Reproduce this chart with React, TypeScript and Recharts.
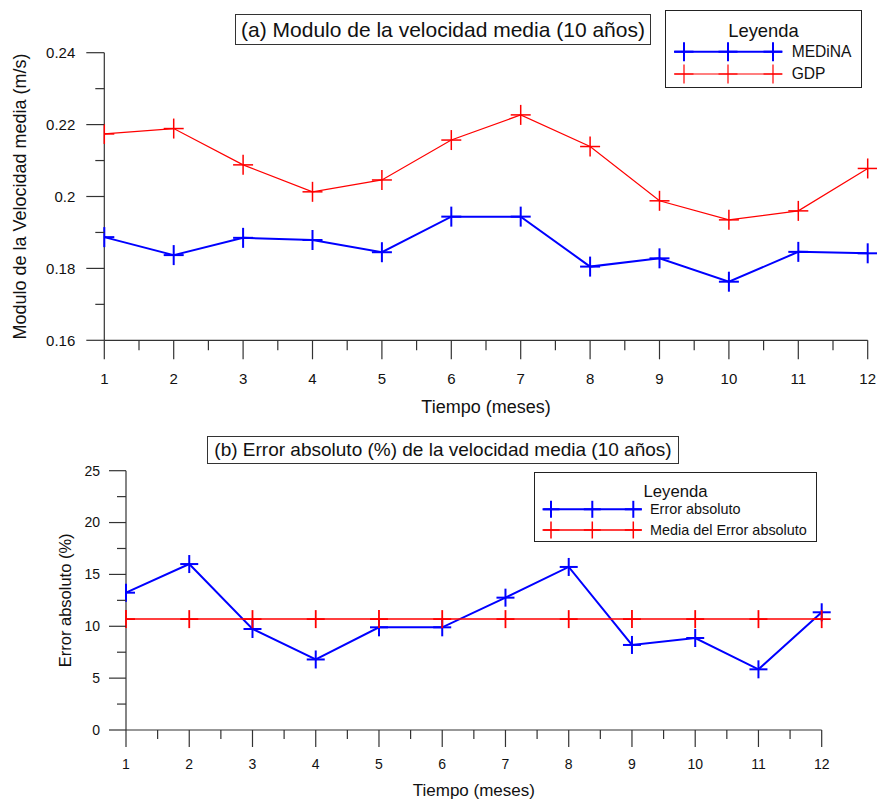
import React from 'react'
import { LineChart, Line, XAxis, YAxis, Legend } from 'recharts'

// ── datos ────────────────────────────────────────────────
const meses = [1, 2, 3, 4, 5, 6, 7, 8, 9, 10, 11, 12]

// (a) modulo de la velocidad media (m/s)
const velMedina = [0.1887, 0.1837, 0.1885, 0.1879, 0.1845, 0.1944, 0.1944, 0.1805, 0.1828, 0.1763, 0.1846, 0.1842]
const velGdp = [0.2174, 0.2189, 0.2088, 0.2013, 0.2046, 0.2157, 0.2227, 0.2139, 0.1988, 0.1935, 0.196, 0.2078]

// (b) error absoluto (%)
const errorAbsoluto = [13.24, 16.0, 9.74, 6.8, 9.9, 9.9, 12.76, 15.72, 8.2, 8.87, 5.85, 11.35]
const errorMedia = [10.69, 10.69, 10.69, 10.69, 10.69, 10.69, 10.69, 10.69, 10.69, 10.69, 10.69, 10.69]

// ticks (mayores + menores)
const mesTicks = [1, 1.5, 2, 2.5, 3, 3.5, 4, 4.5, 5, 5.5, 6, 6.5, 7, 7.5, 8, 8.5, 9, 9.5, 10, 10.5, 11, 11.5, 12]
const velTicks = [0.16, 0.17, 0.18, 0.19, 0.2, 0.21, 0.22, 0.23, 0.24]
const errTicks = [0, 2.5, 5, 7.5, 10, 12.5, 15, 17.5, 20, 22.5, 25]

const dataVel = meses.map((m, i) => ({ mes: m, medina: velMedina[i], gdp: velGdp[i] }))
const dataErr = meses.map((m, i) => ({ mes: m, error: errorAbsoluto[i], media: errorMedia[i] }))

const AXIS = '#333'
const BLUE = '#0000ff'
const RED = '#ff0000'
const FONT = '"Liberation Sans", Arial, Helvetica, sans-serif'

const esMes = (v: number) => Number.isInteger(v)
const esVel = (v: number) => Math.round(v * 100) % 2 === 0
const esErr = (v: number) => v % 5 === 0

// tick con raya larga/corta dibujada a mano
const XTick = ({ x, y, payload, mayor, largo, corto, sep, tam }: any) => {
  const v = payload.value
  const m = mayor(v)
  return (
    <g>
      <line x1={x} x2={x} y1={y} y2={y + (m ? largo : corto)} stroke={AXIS} strokeWidth={1.2} />
      {m && (
        <text x={x} y={y + sep} dy="0.35em" textAnchor="middle" fontSize={tam} fontFamily={FONT} fill="#111">
          {v}
        </text>
      )}
    </g>
  )
}

const YTick = ({ x, y, payload, mayor, largo, corto, sep, tam }: any) => {
  const v = payload.value
  const m = mayor(v)
  return (
    <g>
      <line x1={x - (m ? largo : corto)} x2={x} y1={y} y2={y} stroke={AXIS} strokeWidth={1.2} />
      {m && (
        <text x={x - largo - sep} y={y} dy="0.35em" textAnchor="end" fontSize={tam} fontFamily={FONT} fill="#111">
          {+v.toFixed(2)}
        </text>
      )}
    </g>
  )
}

const TituloX = ({ viewBox, titulo, sep, tam }: any) => {
  const cx = viewBox.x + viewBox.width / 2
  const cy = viewBox.y + sep
  return (
    <text x={cx} y={cy} dy="0.35em" textAnchor="middle" fontSize={tam} fontFamily={FONT} fill="#111">
      {titulo}
    </text>
  )
}

const TituloY = ({ viewBox, titulo, sep, tam }: any) => {
  const cx = viewBox.x + viewBox.width - sep
  const cy = viewBox.y + viewBox.height / 2
  return (
    <text x={cx} y={cy} dy="0.35em" transform={`rotate(-90 ${cx} ${cy})`} textAnchor="middle" fontSize={tam} fontFamily={FONT} fill="#111">
      {titulo}
    </text>
  )
}

// cruz "+"; el primer punto queda cortado por el eje (medio brazo a la izquierda)
const Cruz = ({ cx, cy, r, color, w, medio }: any) => {
  if (cx == null || cy == null) return <g />
  return (
    <g>
      <line x1={medio ? cx : cx - r} x2={cx + r} y1={cy} y2={cy} stroke={color} strokeWidth={w} />
      <line x1={cx} x2={cx} y1={cy - r} y2={cy + r} stroke={color} strokeWidth={w} />
    </g>
  )
}

// leyenda con caja, titulo y linea con 3 cruces
const Leyenda = ({ payload, cfg, widths }: any) => {
  const items = [...(payload || [])].sort((a: any, b: any) => cfg.orden.indexOf(a.value) - cfg.orden.indexOf(b.value))
  return (
    <div style={{ width: cfg.w, height: cfg.h, border: '1.3px solid #222', background: '#fff', boxSizing: 'border-box' }}>
      <svg width={cfg.w - 2} height={cfg.h - 2} style={{ display: 'block' }}>
        <text x={(cfg.w - 2) / 2} y={cfg.tituloY} dy="0.35em" textAnchor="middle" fontSize={cfg.tamTitulo} fontFamily={FONT} fill="#111">
          Leyenda
        </text>
        {items.map((it: any, i: number) => {
          const y = cfg.filas[i]
          const w = widths[it.value] ?? 1.5
          return (
            <g key={it.value}>
              <line x1={cfg.x0} x2={cfg.x1} y1={y} y2={y} stroke={it.color} strokeWidth={w} />
              {cfg.marcas.map((mx: number) => (
                <Cruz key={mx} cx={mx} cy={y} r={cfg.r} color={it.color} w={w} />
              ))}
              <text x={cfg.xt} y={y} dy="0.35em" fontSize={cfg.tam} fontFamily={FONT} fill="#111">
                {it.value}
              </text>
            </g>
          )
        })}
      </svg>
    </div>
  )
}

const tituloCaja = (left: number, top: number, w: number, h: number, tam: number): React.CSSProperties => ({
  position: 'absolute', left, top, width: w, height: h, lineHeight: `${h - 2}px`,
  border: '1.3px solid #333', boxSizing: 'border-box', textAlign: 'center',
  fontSize: tam, fontFamily: FONT, color: '#111', whiteSpace: 'nowrap', background: '#fff',
})

export default function App() {
  return (
    <div style={{ position: 'absolute', left: 0, top: 0, width: 877, height: 801, background: '#fff', fontFamily: FONT }}>
      {/* (a) velocidad media */}
      <div style={{ position: 'absolute', left: 0, top: 0 }}>
        <LineChart width={877} height={420} data={dataVel} margin={{ top: 52.7, right: 9.3, left: 0, bottom: 0 }}>
          <XAxis
            dataKey="mes" type="number" domain={[1, 12]} ticks={mesTicks} interval={0}
            height={79.7} tickSize={0} tickMargin={0} tickLine={false}
            axisLine={{ stroke: AXIS, strokeWidth: 1.2 }}
            tick={(p: any) => <XTick {...p} mayor={esMes} largo={19} corto={10} sep={38.5} tam={15} />}
            label={<TituloX titulo="Tiempo (meses)" sep={66.7} tam={18} />}
          />
          <YAxis
            type="number" domain={[0.16, 0.24]} ticks={velTicks} interval={0}
            width={104.3} tickSize={0} tickMargin={0} tickLine={false}
            axisLine={{ stroke: AXIS, strokeWidth: 1.2 }}
            tick={(p: any) => <YTick {...p} mayor={esVel} largo={18} corto={9} sep={11} tam={15} />}
            label={<TituloY titulo="Modulo de la Velocidad media (m/s)" sep={84.3} tam={18} />}
          />
          <Legend
            layout="vertical" align="center" verticalAlign="middle"
            wrapperStyle={{ left: 665, top: 10, width: 197, height: 78 }}
            content={(p: any) => (
              <Leyenda {...p} widths={{ MEDiNA: 2, GDP: 1.2 }}
                cfg={{ w: 197, h: 78, orden: ['MEDiNA', 'GDP'], tituloY: 20, tamTitulo: 18.4, filas: [40.7, 63], x0: 8, x1: 116, marcas: [18, 62, 107], r: 9.5, xt: 125.7, tam: 15.6 }} />
            )}
          />
          <Line dataKey="medina" name="MEDiNA" type="linear" stroke={BLUE} strokeWidth={2} isAnimationActive={false}
            dot={(p: any) => <Cruz key={p.index} cx={p.cx} cy={p.cy} r={10} color={BLUE} w={2} medio={p.index === 0} />} />
          <Line dataKey="gdp" name="GDP" type="linear" stroke={RED} strokeWidth={1.2} isAnimationActive={false}
            dot={(p: any) => <Cruz key={p.index} cx={p.cx} cy={p.cy} r={10} color={RED} w={1.5} medio={p.index === 0} />} />
        </LineChart>
      </div>

      {/* (b) error absoluto */}
      <div style={{ position: 'absolute', left: 0, top: 420 }}>
        <LineChart width={877} height={381} data={dataErr} margin={{ top: 50.7, right: 55.3, left: 0, bottom: 0 }}>
          <XAxis
            dataKey="mes" type="number" domain={[1, 12]} ticks={mesTicks} interval={0}
            height={71} tickSize={0} tickMargin={0} tickLine={false}
            axisLine={{ stroke: AXIS, strokeWidth: 1.2 }}
            tick={(p: any) => <XTick {...p} mayor={esMes} largo={17} corto={9} sep={34} tam={14} />}
            label={<TituloX titulo="Tiempo (meses)" sep={60} tam={17} />}
          />
          <YAxis
            type="number" domain={[0, 25]} ticks={errTicks} interval={0}
            width={126} tickSize={0} tickMargin={0} tickLine={false}
            axisLine={{ stroke: AXIS, strokeWidth: 1.2 }}
            tick={(p: any) => <YTick {...p} mayor={esErr} largo={17} corto={9} sep={9} tam={14} />}
            label={<TituloY titulo="Error absoluto (%)" sep={61} tam={16.5} />}
          />
          <Legend
            layout="vertical" align="center" verticalAlign="middle"
            wrapperStyle={{ left: 534, top: 52, width: 283, height: 70 }}
            content={(p: any) => (
              <Leyenda {...p} widths={{ 'Error absoluto': 2, 'Media del Error absoluto': 1.5 }}
                cfg={{ w: 283, h: 70, orden: ['Error absoluto', 'Media del Error absoluto'], tituloY: 17.7, tamTitulo: 16.7, filas: [36.3, 57], x0: 8.3, x1: 106.7, marcas: [16, 57.3, 98.3], r: 8.5, xt: 115, tam: 14.4 }} />
            )}
          />
          <Line dataKey="error" name="Error absoluto" type="linear" stroke={BLUE} strokeWidth={2} isAnimationActive={false}
            dot={(p: any) => <Cruz key={p.index} cx={p.cx} cy={p.cy} r={9} color={BLUE} w={2} medio={p.index === 0} />} />
          <Line dataKey="media" name="Media del Error absoluto" type="linear" stroke={RED} strokeWidth={1.5} isAnimationActive={false}
            dot={(p: any) => <Cruz key={p.index} cx={p.cx} cy={p.cy} r={9} color={RED} w={1.8} medio={p.index === 0} />} />
        </LineChart>
      </div>

      <div style={tituloCaja(235, 14, 416, 31, 21)}>(a) Modulo de la velocidad media (10 años)</div>
      <div style={tituloCaja(207, 436, 472, 28, 19)}>(b) Error absoluto (%) de la velocidad media (10 años)</div>
    </div>
  )
}
